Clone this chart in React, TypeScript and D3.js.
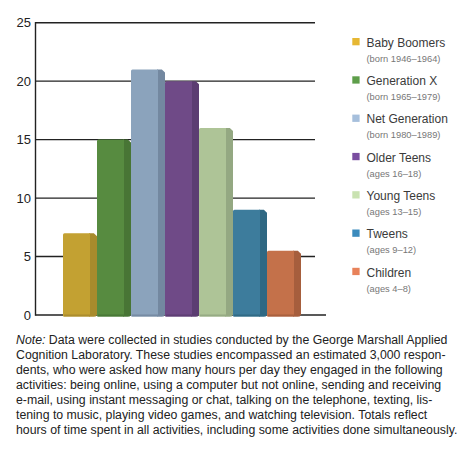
import React from "react";
import * as d3 from "d3";

const groups = [
  "Baby Boomers",
  "Generation X",
  "Net Generation",
  "Older Teens",
  "Young Teens",
  "Tweens",
  "Children",
];
const groupNotes = [
  "(born 1946–1964)",
  "(born 1965–1979)",
  "(born 1980–1989)",
  "(ages 16–18)",
  "(ages 13–15)",
  "(ages 9–12)",
  "(ages 4–8)",
];
const hours = [7, 15, 21, 20, 16, 9, 5.5];
const yTicks = [0, 5, 10, 15, 20, 25];

const frontColors = ["#c3a132", "#578b40", "#8ba3bc", "#6f4a87", "#aec497", "#3d7c9c", "#c4714a"];
const sideColors = ["#a88b2c", "#487535", "#7388a0", "#5c3d72", "#94a882", "#2f6883", "#a65e3d"];
const swatchColors = ["#e6b733", "#5e9e4a", "#a6bfdc", "#7a4ea0", "#c9e2b1", "#3b8bbd", "#e8825a"];

const noteLines = [
  "Data were collected in studies conducted by the George Marshall Applied",
  "Cognition Laboratory. These studies encompassed an estimated 3,000 respon-",
  "dents, who were asked how many hours per day they engaged in the following",
  "activities: being online, using a computer but not online, sending and receiving",
  "e-mail, using instant messaging or chat, talking on the telephone, texting, lis-",
  "tening to music, playing video games, and watching television. Totals reflect",
  "hours of time spent in all activities, including some activities done simultaneously.",
];

const W = 467;
const H = 460;
const font = "'Liberation Sans', Arial, sans-serif";

export default function App() {
  const axisX = 35.5;
  const y = d3.scaleLinear().domain([0, 25]).range([315, 22.7]);
  const x = d3.scaleBand<string>().domain(groups).range([63, 301]).paddingInner(0);
  const depth = 7;
  const frontW = x.bandwidth() - depth;
  const base = y(0);

  return (
    <svg
      width={W}
      height={H}
      style={{ position: "absolute", left: 0, top: 0, background: "#fff" }}
      fontFamily={font}
    >
      {/* gridlines + y labels */}
      {yTicks.map((t) => (
        <g key={t}>
          <line
            x1={axisX}
            x2={t === 0 ? 326 : 315}
            y1={y(t)}
            y2={y(t)}
            stroke="#222"
            strokeWidth={1.4}
          />
          <text
            x={31}
            y={y(t) + 4.5}
            textAnchor="end"
            fontSize={13}
            fill="#222"
          >
            {t}
          </text>
        </g>
      ))}
      <line x1={axisX} x2={axisX} y1={y(25) - 0.7} y2={base + 0.7} stroke="#222" strokeWidth={1.4} />

      {/* 3D-ish bars */}
      {groups.map((g, i) => {
        const x0 = x(g) || 0;
        const x1 = x0 + frontW;
        const top = y(hours[i]);
        const side = [
          [x1 - 1, top],
          [x1 + depth * 0.55, top],
          [x1 + depth, top + 3],
          [x1 + depth, base],
          [x1 + depth * 0.6, base + 1.5],
          [x1 - 1, base + 1.5],
        ]
          .map((p) => p.join(","))
          .join(" ");
        return (
          <g key={g}>
            <polygon points={side} fill={sideColors[i]} />
            <path
              d={`M${x0},${base + 1.5} V${top + 1.5} Q${x0},${top} ${x0 + 1.5},${top} H${x1} V${base + 1.5} Z`}
              fill={frontColors[i]}
            />
            <rect
              x={x0 + 1}
              y={base - 0.5}
              width={frontW + depth - 2}
              height={2}
              fill={sideColors[i]}
              opacity={0.9}
            />
          </g>
        );
      })}

      {/* legend */}
      {groups.map((g, i) => {
        const sy = 38 + i * 38.3;
        return (
          <g key={g}>
            <rect x={352.3} y={sy} width={7.3} height={7.3} fill={swatchColors[i]} />
            <text x={366.5} y={sy + 8.8} fontSize={12} fill="#3a3a3a">
              {g}
            </text>
            <text x={366.5} y={sy + 23.8} fontSize={9.3} fill="#777">
              {groupNotes[i]}
            </text>
          </g>
        );
      })}

      {/* note */}
      {noteLines.map((line, i) => (
        <text key={i} x={16} y={344 + i * 15} fontSize={12.3} fill="#222">
          {i === 0 && <tspan fontStyle="italic">Note:</tspan>}
          {i === 0 ? " " + line : line}
        </text>
      ))}
    </svg>
  );
}
